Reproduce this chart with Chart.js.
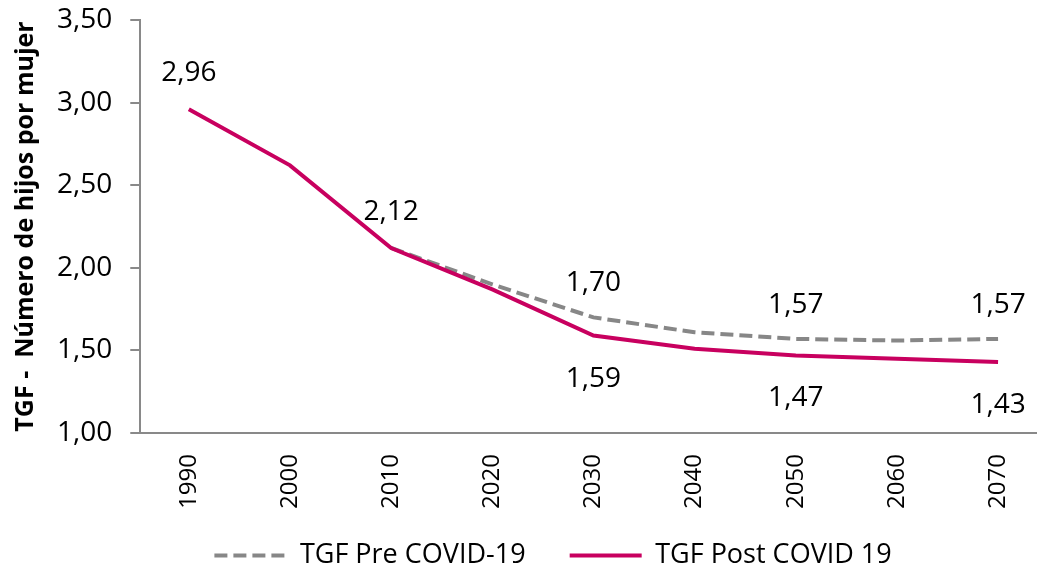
<!DOCTYPE html>
<html lang="es">
<head>
  <meta charset="UTF-8" />
  <title>TGF Pre y Post COVID-19</title>
  <script src="https://cdn.jsdelivr.net/npm/chart.js"></script>
  <style>
    html, body { margin: 0; padding: 0; background: #fff; }
    #wrap { width: 1043px; height: 568px; }
  </style>
</head>
<body>
  <div id="wrap"><canvas id="tgfChart"></canvas></div>

  <script>
    // datos
    const years = [1990, 2000, 2010, 2020, 2030, 2040, 2050, 2060, 2070];
    const tgfPre = [null, null, 2.12, 1.90, 1.70, 1.61, 1.57, 1.56, 1.57];
    const tgfPost = [2.96, 2.62, 2.12, 1.87, 1.59, 1.51, 1.47, 1.45, 1.43];
    const yTicks = [1.0, 1.5, 2.0, 2.5, 3.0, 3.5];

    // puntos con etiqueta
    const preLabelIdx = [4, 6, 8];
    const postLabelIdx = [0, 2, 4, 6, 8];

    const fmt = v => v.toFixed(2).replace('.', ',');
    const toXY = arr => years.map((yr, i) => ({ x: yr, y: arr[i] }));

    const pointLabels = {
      id: 'pointLabels',
      afterDatasetsDraw(chart) {
        const ctx = chart.ctx;
        ctx.save();
        ctx.font = '28px "Open Sans"';
        ctx.fillStyle = '#000';
        ctx.textAlign = 'center';
        ctx.textBaseline = 'middle';
        const pre = chart.getDatasetMeta(0).data;
        const post = chart.getDatasetMeta(1).data;
        preLabelIdx.forEach(i => {
          ctx.fillText(fmt(tgfPre[i]), pre[i].x, pre[i].y - 34);
        });
        postLabelIdx.forEach(i => {
          const below = tgfPre[i] != null && tgfPre[i] !== tgfPost[i];
          ctx.fillText(fmt(tgfPost[i]), post[i].x, below ? post[i].y + 43 : post[i].y - 36);
        });
        ctx.restore();
      }
    };

    new Chart(document.getElementById('tgfChart'), {
      type: 'line',
      data: {
        datasets: [
          {
            label: 'TGF Pre COVID-19',
            data: toXY(tgfPre),
            borderColor: '#878787',
            backgroundColor: '#878787',
            borderWidth: 4,
            borderDash: [13, 6],
            pointRadius: 0,
            tension: 0,
            order: 2
          },
          {
            label: 'TGF Post COVID 19',
            data: toXY(tgfPost),
            borderColor: '#C8005F',
            backgroundColor: '#C8005F',
            borderWidth: 4,
            pointRadius: 0,
            tension: 0,
            order: 1
          }
        ]
      },
      options: {
        responsive: true,
        maintainAspectRatio: false,
        animation: false,
        layout: { padding: { top: 0, right: 7, left: 7, bottom: -11 } },
        plugins: {
          tooltip: { enabled: false },
          legend: {
            position: 'bottom',
            fullSize: false,
            labels: {
              usePointStyle: true,
              pointStyle: 'line',
              pointStyleWidth: 72,
              boxHeight: 4,
              padding: 2,
              color: '#000',
              font: { family: 'Open Sans', size: 27 },
              // muestra de linea con el trazo de cada serie
              generateLabels: chart => chart.data.datasets.map((ds, i) => ({
                text: i === 0 ? ds.label + '      ' : ds.label + '          ',
                fillStyle: ds.borderColor,
                strokeStyle: ds.borderColor,
                lineWidth: ds.borderWidth,
                lineDash: ds.borderDash || [],
                pointStyle: 'line',
                fontColor: '#000',
                hidden: false,
                datasetIndex: i
              }))
            }
          }
        },
        scales: {
          x: {
            type: 'linear',
            min: 1985.2,
            max: 2073.75,
            afterBuildTicks: axis => { axis.ticks = years.map(v => ({ value: v })); },
            afterFit: axis => { axis.height += 18; },
            grid: { display: false },
            border: { color: '#898989', width: 2 },
            ticks: {
              color: '#000',
              minRotation: 90,
              maxRotation: 90,
              padding: 13,
              font: { family: 'Open Sans', size: 24 },
              callback: v => String(v)
            }
          },
          y: {
            min: 1,
            max: 3.5,
            afterBuildTicks: axis => { axis.ticks = yTicks.map(v => ({ value: v })); },
            afterFit: axis => { axis.width += 7; },
            grid: {
              drawOnChartArea: false,
              drawTicks: true,
              tickLength: 20,
              tickBorderDash: [10, 10],
              tickBorderDashOffset: 10,
              color: '#898989',
              lineWidth: 2
            },
            border: { color: '#898989', width: 2 },
            title: {
              display: true,
              text: 'TGF -  Número de hijos por mujer',
              color: '#000',
              font: { family: 'Open Sans', size: 25, weight: 'bold' },
              padding: { top: 4, bottom: 1 }
            },
            ticks: {
              color: '#000',
              padding: 8,
              font: { family: 'Open Sans', size: 28, lineHeight: 0.85 },
              callback: v => fmt(v)
            }
          }
        }
      },
      plugins: [pointLabels]
    });
  </script>
</body>
</html>
